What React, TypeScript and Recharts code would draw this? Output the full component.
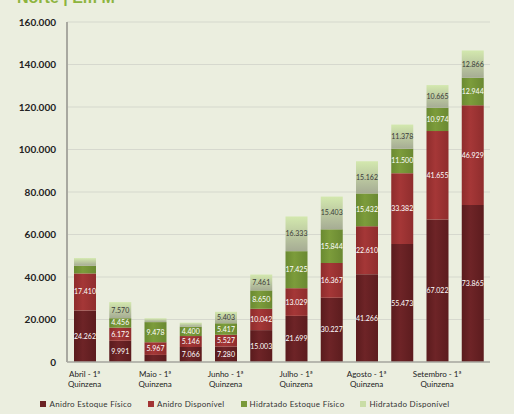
import { BarChart, Bar, XAxis, YAxis, CartesianGrid, Legend, LabelList } from 'recharts';

const categories = [
  'Abril - 1ª Quinzena', 'Abril - 2ª Quinzena',
  'Maio - 1ª Quinzena', 'Maio - 2ª Quinzena',
  'Junho - 1ª Quinzena', 'Junho - 2ª Quinzena',
  'Julho - 1ª Quinzena', 'Julho - 2ª Quinzena',
  'Agosto - 1ª Quinzena', 'Agosto - 2ª Quinzena',
  'Setembro - 1ª Quinzena', 'Setembro - 2ª Quinzena',
];
const anidroEstoque = [24262, 9991, 3333, 7066, 7280, 15003, 21699, 30227, 41266, 55473, 67022, 73865];
const anidroDisponivel = [17410, 6172, 5967, 5146, 5527, 10042, 13029, 16367, 22610, 33382, 41655, 46929];
const hidratadoEstoque = [3633, 4456, 9478, 4400, 5417, 8650, 17425, 15844, 15432, 11500, 10974, 12944];
const hidratadoDisponivel = [3600, 7570, 1800, 1900, 5403, 7461, 16333, 15403, 15162, 11378, 10665, 12866];
const yTicks = [0, 20000, 40000, 60000, 80000, 100000, 120000, 140000, 160000];

const series = [
  { key: 'anidroEstoque', name: 'Anidro Estoque Físico', color: '#6B2224', fill: 'url(#gDark)', label: '#ffffff' },
  { key: 'anidroDisponivel', name: 'Anidro Disponível', color: '#A33434', fill: 'url(#gRed)', label: '#ffffff' },
  { key: 'hidratadoEstoque', name: 'Hidratado Estoque Físico', color: '#7A9A3A', fill: 'url(#gGreen)', label: '#ffffff' },
  { key: 'hidratadoDisponivel', name: 'Hidratado Disponível', color: '#C9DDA6', fill: 'url(#gLight)', label: '#3a3a3a' },
];

const data = categories.map((c, i) => ({
  name: c,
  anidroEstoque: anidroEstoque[i],
  anidroDisponivel: anidroDisponivel[i],
  hidratadoEstoque: hidratadoEstoque[i],
  hidratadoDisponivel: hidratadoDisponivel[i],
}));

const fmt = (v: number) => String(Math.round(v)).replace(/\B(?=(\d{3})+(?!\d))/g, '.');

const FONT = 'Lato, "Liberation Sans", sans-serif';

const XTick = ({ x, y, payload }: any) => {
  const [first] = String(payload.value).split(' Quinzena');
  return (
    <text x={x} y={y} textAnchor="middle" fontSize={8} fontFamily={FONT} fill="#222">
      <tspan x={x} dy={7}>{first}</tspan>
      <tspan x={x} dy={10}>Quinzena</tspan>
    </text>
  );
};

const makeLabel = (color: string) => (props: any) => {
  const vb = props.viewBox || props;
  const x = Number(vb.x);
  const y = Number(vb.y);
  const w = Number(vb.width);
  const h = Number(vb.height);
  if (Math.abs(h) < 9) return null;
  return (
    <text x={x + w / 2} y={y + h / 2 + 2.5} textAnchor="middle" fontSize={7} fontFamily={FONT} fill={color}>
      {fmt(props.value)}
    </text>
  );
};

const LegendContent = () => (
  <div style={{ display: 'flex', justifyContent: 'center', gap: 16, fontFamily: FONT, fontSize: 8, color: '#333', paddingTop: 7 }}>
    {series.map(s => (
      <div key={s.key} style={{ display: 'flex', alignItems: 'center', gap: 3 }}>
        <span style={{ width: 6, height: 6, background: s.color, display: 'inline-block' }} />
        <span style={{ letterSpacing: 0.3 }}>{s.name}</span>
      </div>
    ))}
  </div>
);

export default function App() {
  return (
    <div style={{ position: 'absolute', left: 0, top: 0, width: 514, height: 414, background: '#EBEEDF', overflow: 'hidden' }}>
      <div style={{ position: 'absolute', left: 17, top: -11, fontFamily: '"Liberation Sans", sans-serif', fontWeight: 'bold', fontSize: 16, lineHeight: '18px', color: '#8DB43E' }}>
        Norte | Em M³
      </div>
      <BarChart width={514} height={414} data={data} margin={{ top: 22, right: 24, left: 0, bottom: 0 }} barSize={22}>
        <defs>
          <linearGradient id="gDark" x1="0" y1="0" x2="1" y2="0">
            <stop offset="0%" stopColor="#5A1B1D" />
            <stop offset="40%" stopColor="#6E2427" />
            <stop offset="100%" stopColor="#5C1C1E" />
          </linearGradient>
          <linearGradient id="gRed" x1="0" y1="0" x2="1" y2="0">
            <stop offset="0%" stopColor="#8E2C2C" />
            <stop offset="40%" stopColor="#A53737" />
            <stop offset="100%" stopColor="#8F2D2D" />
          </linearGradient>
          <linearGradient id="gGreen" x1="0" y1="0" x2="1" y2="0">
            <stop offset="0%" stopColor="#6A8A31" />
            <stop offset="40%" stopColor="#7C9C3B" />
            <stop offset="100%" stopColor="#6A8932" />
          </linearGradient>
          <linearGradient id="gLight" x1="0" y1="0" x2="0" y2="1">
            <stop offset="0%" stopColor="#D3E8AE" />
            <stop offset="100%" stopColor="#A6AC94" />
          </linearGradient>
        </defs>
        <CartesianGrid vertical={false} stroke="#D6D8CE" strokeWidth={1.2} />
        <XAxis
          dataKey="name"
          interval={1}
          tick={<XTick />}
          tickLine={false}
          axisLine={{ stroke: '#A8A8A0', strokeWidth: 1.5 }}
          height={30}
        />
        <YAxis
          width={67}
          domain={[0, 160000]}
          ticks={yTicks}
          tickFormatter={fmt}
          tick={{ fontSize: 10, fill: '#222', fontFamily: FONT, fontWeight: 'bold' }}
          tickLine={false}
          tickSize={0}
          tickMargin={11}
          axisLine={{ stroke: '#A8A8A0', strokeWidth: 2 }}
        />
        <Legend verticalAlign="bottom" height={22} content={<LegendContent />} />
        {series.map(s => (
          <Bar key={s.key} dataKey={s.key} name={s.name} stackId="a" fill={s.fill} isAnimationActive={false}>
            <LabelList dataKey={s.key} content={makeLabel(s.label)} />
          </Bar>
        ))}
      </BarChart>
    </div>
  );
}
